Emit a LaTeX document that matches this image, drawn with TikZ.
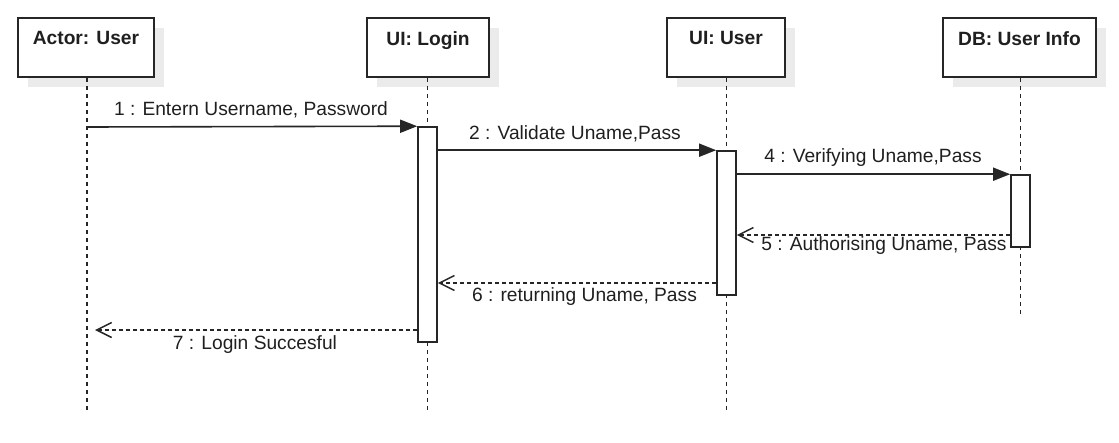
\documentclass[tikz,border=0pt]{standalone}
\usepackage{fontspec}
\setmainfont{Liberation Sans}
\usetikzlibrary{arrows.meta,shadows}
\begin{document}
\begin{tikzpicture}[x=1pt,y=-1pt,
  every node/.style={text=black!88},
  head/.style={draw=black!85, line width=1.6pt, fill=white, minimum width=#1, minimum height=59pt, inner sep=0pt,
    general shadow={fill=black!8, shadow xshift=10pt, shadow yshift=-10pt}},
  headtext/.style={anchor=north, inner sep=0pt, yshift=-14pt, font=\fontsize{19.2}{23}\selectfont\bfseries},
  life/.style={draw=black!85, line width=1.5pt, dash pattern=on 4pt off 4pt},
  act/.style={draw=black!85, line width=1.6pt, fill=white, minimum width=19pt, minimum height=#1, inner sep=0pt},
  sync/.style={draw=black!85, line width=1.6pt, -{Triangle[length=17pt,width=13pt]}},
  ret/.style={draw=black!85, line width=1.5pt, dash pattern=on 4pt off 3pt, -{Straight Barb[length=15pt,width=15pt,line width=1.5pt]}},
  lbl/.style={inner sep=0pt, font=\fontsize{19.2}{23}\selectfont}
]
\useasboundingbox (0,0) rectangle (1119,442);

% heads
\node[head=136pt, label={[headtext]north:Actor: User}] (hA) at (86,47.5) {};
\node[head=122pt, label={[headtext]north:UI: Login}] (hL) at (428,47.5) {};
\node[head=118pt, label={[headtext]north:UI: User}] (hU) at (726,47.5) {};
\node[head=153pt, label={[headtext]north:DB: User Info}] (hD) at (1019.5,47.5) {};

% lifeline ends
\coordinate (eA) at (87,413);
\coordinate (eL) at (427.5,413);
\coordinate (eU) at (726.5,413);
\coordinate (eD) at (1020.5,317);
\draw[life] (hA.south -| eA) -- (eA);
\draw[life] (hL.south -| eL) -- (eL);
\draw[life] (hU.south -| eU) -- (eU);
\draw[life] (hD.south -| eD) -- (eD);

% activations
\node[act=215pt] (aL) at (427.5,234.5) {};
\node[act=144pt] (aU) at (726.5,223) {};
\node[act=72pt] (aD) at (1020.5,211) {};

% messages
\coordinate (s1) at (87,127);
\draw[sync] (s1) -- (aL.north west);
\node[lbl] (t1) at (251,110) {1 : Entern Username, Password};

\draw[sync] (aU.north west -| aL.east) -- (aU.north west);
\node[lbl] (t2) at (575,134) {2 : Validate Uname,Pass};

\draw[sync] (aD.north west -| aU.east) -- (aD.north west);
\node[lbl] (t4) at (873,158) {4 : Verifying Uname,Pass};

\draw[ret] (aD.west |- 0,235) -- (aU.east |- 0,235);
\node[lbl] (t5) at (884,246) {5 : Authorising Uname, Pass};

\draw[ret] (aU.west |- 0,283) -- (aL.east |- 0,283);
\node[lbl] (t6) at (584.5,297) {6 : returning Uname, Pass};

\coordinate (e7) at (95,330);
\draw[ret] (aL.west |- e7) -- (e7);
\node[lbl] (t7) at (255,345) {7 : Login Succesful};
\end{tikzpicture}
\end{document}
